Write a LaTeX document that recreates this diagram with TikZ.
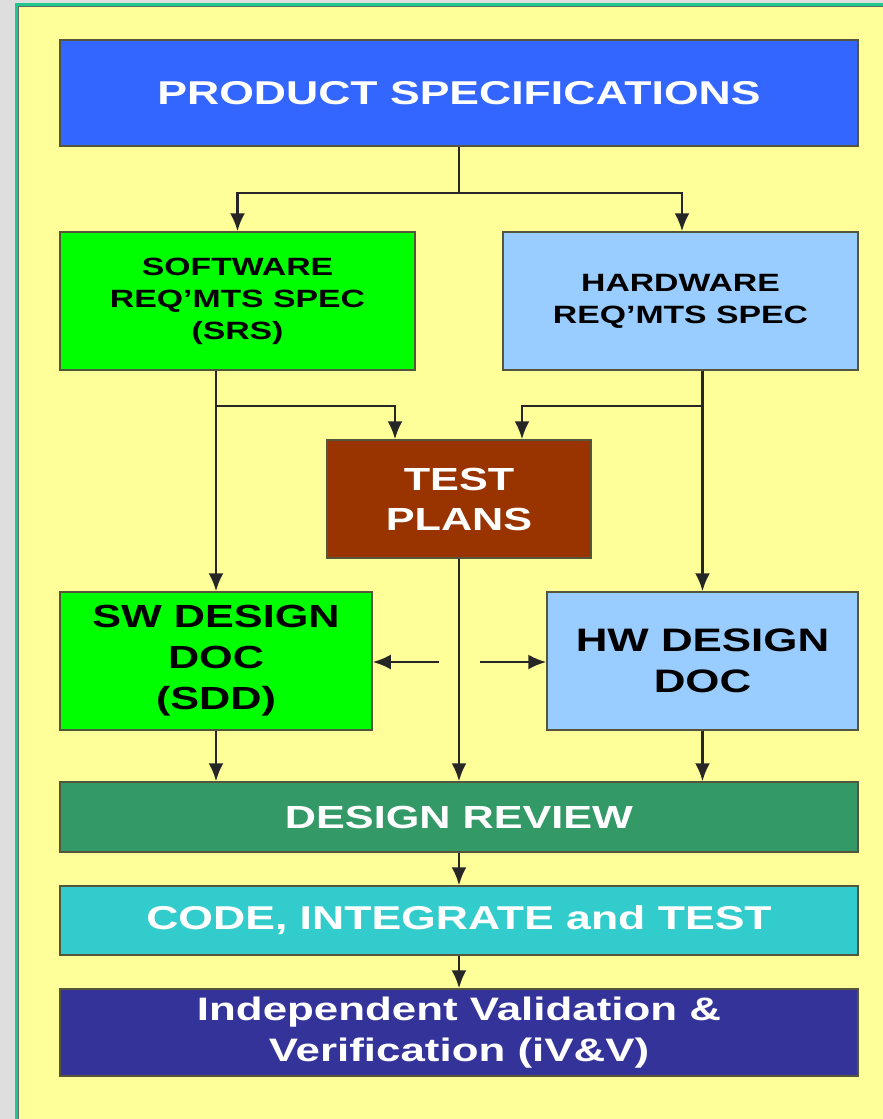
\documentclass[tikz,border=0pt]{standalone}
\usepackage{fontspec}
\setmainfont{Liberation Sans}
\newfontfamily\widesans[FakeStretch=1.35]{Liberation Sans}
\usetikzlibrary{arrows.meta}
\definecolor{paper}{HTML}{FFFF99}
\definecolor{bggray}{HTML}{DEDEDE}
\definecolor{edgegreen}{RGB}{30,200,140}
\definecolor{boxline}{RGB}{85,85,60}
\definecolor{specblue}{HTML}{3366FF}
\definecolor{swgreen}{HTML}{00FF00}
\definecolor{hwblue}{HTML}{99CCFF}
\definecolor{testbrown}{HTML}{993300}
\definecolor{reviewgreen}{HTML}{339966}
\definecolor{codecyan}{HTML}{33CCCC}
\definecolor{ivvblue}{HTML}{333399}

\begin{document}
\begin{tikzpicture}[x=1pt,y=-1pt,
    >={Latex[length=18pt,width=15pt]},
    box/.style={draw=boxline,line width=1.5pt,align=center,inner sep=0pt},
    flow/.style={draw=black!85,line width=2.5pt,->}]
        \useasboundingbox (0,0) rectangle (883,1119);
        % page
        \fill[bggray] (0,0) rectangle (883,1119);
        \fill[paper] (15,3) rectangle (883,1119);
        \draw[edgegreen,line width=3pt] (16.5,1119) -- (16.5,4.5) -- (883,4.5);
        \draw[black!60,line width=1pt] (18.5,1119) -- (18.5,6.5) -- (883,6.5);
        % boxes
        \draw (459,93) node (PS) [box,fill=specblue,text=white,minimum width=798pt,minimum height=106pt,font=\widesans\bfseries\fontsize{33}{40}\selectfont] {PRODUCT SPECIFICATIONS};
        \draw (237.5,301) node (SRS) [box,fill=swgreen,minimum width=355pt,minimum height=138pt,font=\widesans\bfseries\fontsize{25}{32}\selectfont] {SOFTWARE\\REQ’MTS SPEC\\(SRS)};
        \draw (680.5,301) node (HRS) [box,fill=hwblue,minimum width=355pt,minimum height=138pt,font=\widesans\bfseries\fontsize{25}{32}\selectfont] {HARDWARE\\REQ’MTS SPEC};
        \draw (459,499) node (TP) [box,fill=testbrown,text=white,minimum width=264pt,minimum height=118pt,font=\widesans\bfseries\fontsize{32}{40}\selectfont] {TEST\\PLANS};
        \draw (216,661) node (SWD) [box,fill=swgreen,minimum width=312pt,minimum height=138pt,font=\widesans\bfseries\fontsize{32}{41}\selectfont] {SW DESIGN\\DOC\\(SDD)};
        \draw (702.5,661) node (HWD) [box,fill=hwblue,minimum width=311pt,minimum height=138pt,font=\widesans\bfseries\fontsize{32.5}{41}\selectfont] {HW DESIGN\\DOC};
        \draw (459,817) node (DR) [box,fill=reviewgreen,text=white,minimum width=798pt,minimum height=70pt,font=\widesans\bfseries\fontsize{32}{40}\selectfont] {DESIGN REVIEW};
        \draw (459,920.5) node (CIT) [box,fill=codecyan,text=white,minimum width=798pt,minimum height=69pt,font=\widesans\bfseries\fontsize{33}{40}\selectfont] {CODE, INTEGRATE and TEST};
        \draw (459,1032.5) node (IVV) [box,fill=ivvblue,text=white,minimum width=798pt,minimum height=87pt,font=\widesans\bfseries\fontsize{32.5}{41}\selectfont] {Independent Validation \&\\Verification (iV\&V)};
        % spec split
        \draw[flow] (PS.south) -- ++(0,46) -| (SRS.north);
        \draw[flow] (PS.south) -- ++(0,46) -| ([xshift=1.5pt]HRS.north);
        % requirements down to design docs and test plans
        \draw[flow] (SRS.south -| SWD.north) -- (SWD.north);
        \draw[flow] (SRS.south -| SWD.north) ++(0,35) -| ([xshift=-64pt]TP.north);
        \draw[flow] (HRS.south -| HWD.north) -- (HWD.north);
        \draw[flow] (HRS.south -| HWD.north) ++(0,35) -| ([xshift=63pt]TP.north);
        % test plans feed both design docs
        \coordinate (TL) at (439,662);
        \coordinate (TR) at (480,662);
        \draw[flow] (TL) -- (TL -| SWD.east);
        \draw[flow] (TR) -- (TR -| HWD.west);
        % into review and onwards
        \draw[flow] (TP.south) -- (DR.north);
        \draw[flow] (SWD.south) -- (SWD.south |- DR.north);
        \draw[flow] (HWD.south) -- (HWD.south |- DR.north);
        \draw[flow] (DR.south) -- (CIT.north);
        \draw[flow] (CIT.south) -- (IVV.north);
    \end{tikzpicture}
\end{document}
